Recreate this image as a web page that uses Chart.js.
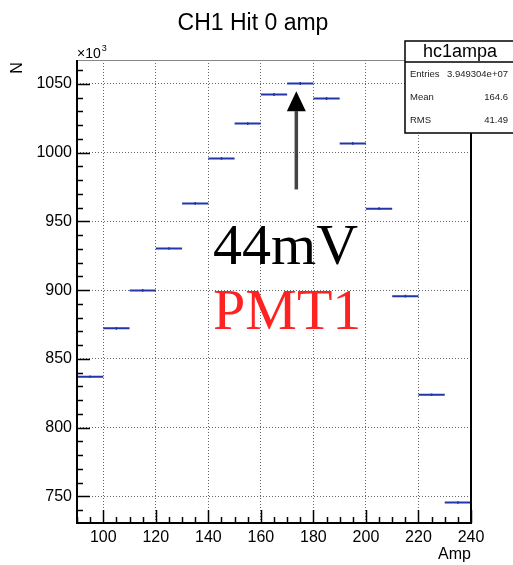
<!DOCTYPE html>
<html>
<head>
<meta charset="utf-8">
<title>CH1 Hit 0 amp</title>
<script src="https://cdn.jsdelivr.net/npm/chart.js@4.4.0/dist/chart.umd.min.js"></script>
<style>
  html, body { margin: 0; padding: 0; background: #fff; }
  #wrap { width: 513px; height: 565px; }
</style>
</head>
<body>
<div id="wrap"><canvas id="chart" width="513" height="565"></canvas></div>
<script>
// Histogram hc1ampa: low edge of each 10-wide bin, contents in units of 10^3
const binLow = [90, 100, 110, 120, 130, 140, 150, 160, 170, 180, 190, 200, 210, 220, 230];
const binWidth = 10;
const counts = [837.1, 872.2, 899.8, 930.3, 963.0, 995.7, 1021.1, 1042.2, 1050.2, 1039.3, 1006.6, 959.2, 895.6, 824.0, 745.6];
const errors = [0.91, 0.93, 0.95, 0.96, 0.98, 1.00, 1.01, 1.02, 1.02, 1.02, 1.00, 0.98, 0.95, 0.91, 0.86];

// axis ranges / tick labels
const xRange = [90, 240];
const yRange = [730.7, 1067.3];
const xTickLabels = [100, 120, 140, 160, 180, 200, 220, 240];
const yTickLabels = [750, 800, 850, 900, 950, 1000, 1050];

// stats box
const statsName = 'hc1ampa';
const statsRows = [['Entries', '3.949304e+07'], ['Mean', '164.6'], ['RMS', '41.49']];

// annotation (data coordinates)
const arrowX = 173.5, arrowTail = 973.2, arrowTip = 1044.6, arrowHeadBase = 1030.1;
const noteX = 141.8;
const noteLines = [{ text: '44mV', y: 918.7, color: '#000000' }, { text: 'PMT1', y: 871.4, color: '#ff2222' }];

const SANS = "'Liberation Sans', Arial, sans-serif";
const SERIF = "'Liberation Serif', 'Times New Roman', serif";
Chart.defaults.font.family = SANS;

// horizontal bin segments, separated by gaps
const segData = [];
binLow.forEach((lo, i) => {
  segData.push({ x: lo, y: counts[i] }, { x: lo + binWidth, y: counts[i] }, { x: lo + binWidth, y: null });
});
// small vertical error bars at bin centres
const errData = [];
binLow.forEach((lo, i) => {
  const c = lo + binWidth / 2;
  errData.push({ x: c, y: counts[i] - errors[i] }, { x: c, y: counts[i] + errors[i] }, { x: c, y: null });
});

// frame, inward ticks, arrow and big labels
const rootStyle = {
  id: 'rootStyle',
  afterDatasetsDraw(chart) {
    const { ctx, chartArea: a, scales: { x, y } } = chart;
    ctx.save();
    ctx.setLineDash([]);
    ctx.lineCap = 'butt';

    // minor / major ticks pointing inward
    ctx.strokeStyle = '#000000';
    ctx.lineWidth = 1.5;
    for (let v = 90; v <= 240; v += 5) {
      const px = Math.round(x.getPixelForValue(v)) + 0.5;
      const len = (v % 20 === 0) ? 13 : 6;
      ctx.beginPath(); ctx.moveTo(px, a.bottom); ctx.lineTo(px, a.bottom - len); ctx.stroke();
    }
    for (let v = 740; v <= 1060; v += 10) {
      const py = Math.round(y.getPixelForValue(v)) + 0.5;
      const len = (v % 50 === 0) ? 13 : 6;
      ctx.beginPath(); ctx.moveTo(a.left, py); ctx.lineTo(a.left + len, py); ctx.stroke();
    }

    // frame
    ctx.strokeStyle = '#888';
    ctx.lineWidth = 1;
    ctx.beginPath(); ctx.moveTo(a.left, a.top + 0.5); ctx.lineTo(a.right, a.top + 0.5); ctx.stroke();
    ctx.strokeStyle = '#000';
    ctx.lineWidth = 2;
    ctx.beginPath();
    ctx.moveTo(a.left, a.top); ctx.lineTo(a.left, a.bottom); ctx.lineTo(a.right, a.bottom); ctx.lineTo(a.right, a.top);
    ctx.stroke();

    // arrow
    const ax = x.getPixelForValue(arrowX);
    const tail = y.getPixelForValue(arrowTail);
    const tip = y.getPixelForValue(arrowTip);
    const base = y.getPixelForValue(arrowHeadBase);
    ctx.strokeStyle = '#444';
    ctx.lineWidth = 3.5;
    ctx.beginPath(); ctx.moveTo(ax, tail); ctx.lineTo(ax, base); ctx.stroke();
    ctx.fillStyle = '#000';
    ctx.beginPath(); ctx.moveTo(ax, tip); ctx.lineTo(ax - 9.5, base); ctx.lineTo(ax + 9.5, base); ctx.closePath(); ctx.fill();

    // big labels
    ctx.font = '58px ' + SERIF;
    ctx.textAlign = 'left';
    ctx.textBaseline = 'alphabetic';
    noteLines.forEach(n => {
      ctx.fillStyle = n.color;
      ctx.fillText(n.text, x.getPixelForValue(noteX), y.getPixelForValue(n.y));
    });
    ctx.restore();
  },
  afterDraw(chart) {
    const { ctx, chartArea: a } = chart;
    ctx.save();
    ctx.fillStyle = '#000';

    // title
    ctx.font = '23px ' + SANS;
    ctx.textAlign = 'center';
    ctx.textBaseline = 'alphabetic';
    ctx.fillText('CH1 Hit 0 amp', 253, 30);

    // x axis title
    ctx.font = '16px ' + SANS;
    ctx.textAlign = 'right';
    ctx.fillText('Amp', a.right, 559);

    // y axis title
    ctx.save();
    ctx.translate(18, 68);
    ctx.rotate(-Math.PI / 2);
    ctx.textAlign = 'center';
    ctx.textBaseline = 'middle';
    ctx.font = '16px ' + SANS;
    ctx.fillText('N', 0, 0);
    ctx.restore();

    // x10^3 exponent
    ctx.textAlign = 'left';
    ctx.font = '14px ' + SANS;
    ctx.fillText('\u00d710', a.left, 58);
    const w = ctx.measureText('\u00d710').width;
    ctx.font = '9px ' + SANS;
    ctx.fillText('3', a.left + w + 1, 51);

    // stats box
    const bx = 405, by = 41, bw = 110, bh = 92, hh = 21;
    ctx.fillStyle = '#fff';
    ctx.fillRect(bx, by, bw, bh);
    ctx.strokeStyle = '#000';
    ctx.lineWidth = 1.5;
    ctx.strokeRect(bx, by, bw, bh);
    ctx.beginPath(); ctx.moveTo(bx, by + hh); ctx.lineTo(bx + bw, by + hh); ctx.stroke();
    ctx.fillStyle = '#000';
    ctx.font = '18px ' + SANS;
    ctx.textAlign = 'center';
    ctx.textBaseline = 'middle';
    ctx.fillText(statsName, 460, by + hh / 2 + 1);
    ctx.font = '9.5px ' + SANS;
    ctx.fillStyle = '#222';
    statsRows.forEach((r, i) => {
      const ry = 74.5 + i * 23;
      ctx.textAlign = 'left';
      ctx.fillText(r[0], 410, ry);
      ctx.textAlign = 'right';
      ctx.fillText(r[1], 508, ry);
    });
    ctx.restore();
  }
};

new Chart(document.getElementById('chart'), {
  type: 'scatter',
  data: {
    datasets: [
      {
        data: segData,
        showLine: true,
        borderColor: '#2236a8',
        borderWidth: 2,
        pointRadius: 0,
        spanGaps: false
      },
      {
        data: errData,
        showLine: true,
        borderColor: '#2236a8',
        borderWidth: 1.5,
        pointRadius: 0,
        spanGaps: false
      }
    ]
  },
  options: {
    responsive: false,
    animation: false,
    events: [],
    layout: { padding: { top: 60, right: 42, bottom: 0, left: 0 } },
    plugins: { legend: { display: false }, tooltip: { enabled: false } },
    scales: {
      x: {
        type: 'linear',
        min: xRange[0],
        max: xRange[1],
        afterFit(s) { s.height = 42; },
        afterBuildTicks(s) { s.ticks = xTickLabels.map(v => ({ value: v })); },
        ticks: { color: '#000', font: { size: 16 }, padding: 5, maxRotation: 0, autoSkip: false, callback: v => String(v) },
        grid: { color: 'rgba(0,0,0,0.6)', lineWidth: 1, drawTicks: false },
        border: { display: false, dash: [1, 2] }
      },
      y: {
        type: 'linear',
        min: yRange[0],
        max: yRange[1],
        afterFit(s) { s.width = 77; },
        afterBuildTicks(s) { s.ticks = yTickLabels.map(v => ({ value: v })); },
        ticks: { color: '#000', font: { size: 16 }, padding: 5, callback: v => String(v) },
        grid: { color: 'rgba(0,0,0,0.6)', lineWidth: 1, drawTicks: false },
        border: { display: false, dash: [1, 2] }
      }
    }
  },
  plugins: [rootStyle]
});
</script>
</body>
</html>
